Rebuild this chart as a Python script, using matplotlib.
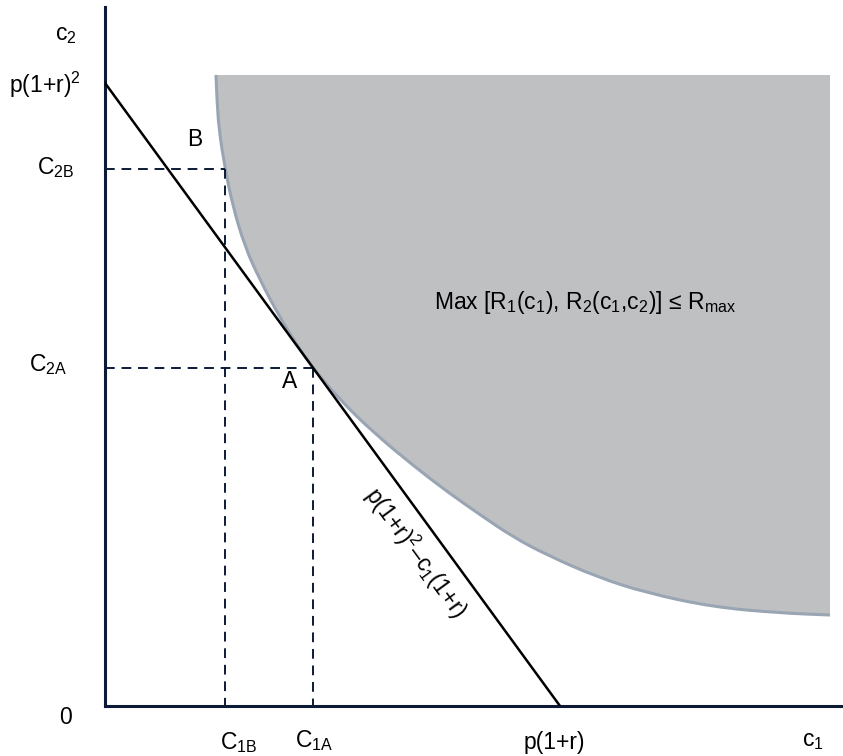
import matplotlib
matplotlib.use("Agg")
import matplotlib.pyplot as plt
from matplotlib.path import Path
from matplotlib.patches import PathPatch
import numpy as np

plt.rcParams['font.family'] = ['Liberation Sans', 'DejaVu Sans']
plt.rcParams['mathtext.fontset'] = 'custom'
plt.rcParams['mathtext.rm'] = 'Liberation Sans'
plt.rcParams['mathtext.it'] = 'Liberation Sans:italic'
plt.rcParams['mathtext.bf'] = 'Liberation Sans:bold'

# Boundary of the admissible region Max[R1, R2] <= Rmax (c1, c2)
c1_curve = [111, 112, 114, 120, 127.5, 140, 155, 174.6, 192, 208, 235, 269,
            310, 342, 374, 408, 442, 492, 542, 608, 675, 725]
c2_curve = [631, 606, 576, 538, 501, 459, 426, 389, 361, 338, 306, 273,
            239, 214.5, 192, 169, 151, 129, 113, 99, 93, 91]
region_top = 631
region_right = 725

# Budget line c2 = p(1+r)^2 - c1(1+r)
budget_c2_max = 623   # p(1+r)^2
budget_c1_max = 455   # p(1+r)

# Points on the boundary
point_A = (208, 338)
point_B = (120, 537)

axis_color = '#0d1a36'
fill_color = '#bfc0c2'
edge_color = '#9aa5b4'


def smooth_path(xs, ys):
    """Quadratic-Bezier path through the midpoints of the given points."""
    pts = np.column_stack([xs, ys]).astype(float)
    verts = [pts[0], (pts[0] + pts[1]) / 2]
    codes = [Path.MOVETO, Path.LINETO]
    for i in range(1, len(pts) - 1):
        verts += [pts[i], (pts[i] + pts[i + 1]) / 2]
        codes += [Path.CURVE3, Path.CURVE3]
    verts.append(pts[-1])
    codes.append(Path.LINETO)
    return verts, codes


fig = plt.figure(figsize=(8.43, 7.56), dpi=100)
ax = fig.add_axes([105 / 843, 50 / 756, 738 / 843, 699 / 756])
ax.set_xlim(0, 738)
ax.set_ylim(0, 699)

# shaded region
v, c = smooth_path(c1_curve, c2_curve)
fill_verts = v + [(region_right, region_top), (c1_curve[0], region_top), (0, 0)]
fill_codes = c + [Path.LINETO, Path.LINETO, Path.CLOSEPOLY]
ax.add_patch(PathPatch(Path(fill_verts, fill_codes), facecolor=fill_color,
                       edgecolor='none', zorder=1))
ax.add_patch(PathPatch(Path(v, c), facecolor='none', edgecolor=edge_color,
                       lw=2.2, zorder=2, capstyle='butt'))

# budget line
ax.plot([0, budget_c1_max], [budget_c2_max, 0], color='black', lw=1.8, zorder=4)

# dashed guides
dash = dict(color=axis_color, lw=1.4, dashes=(5, 3.5), zorder=3)
for (cx, cy) in (point_A, point_B):
    ax.plot([0, cx], [cy, cy], **dash)
    ax.plot([cx, cx], [cy, 0], **dash)

# axes styling
for s in ('top', 'right'):
    ax.spines[s].set_visible(False)
for s in ('left', 'bottom'):
    ax.spines[s].set_color(axis_color)
    ax.spines[s].set_linewidth(2.2)
ax.set_xticks([])
ax.set_yticks([])

fs = 16.5
txt = dict(fontsize=fs, ha='center', va='center', color='black')
ax.text(-39, 672, r'$\mathrm{c_2}$', **txt)
ax.text(-60, 621, r'$\mathrm{p(1{+}r)^2}$', **txt)
ax.text(-49, 538, r'$\mathrm{C_{2B}}$', **txt)
ax.text(-57, 341, r'$\mathrm{C_{2A}}$', **txt)
ax.text(-39, -11, '0', **txt)
ax.text(90, 566, 'B', **txt)
ax.text(185, 324, 'A', **txt)
ax.text(134, -37, r'$\mathrm{C_{1B}}$', **txt)
ax.text(209, -35, r'$\mathrm{C_{1A}}$', **txt)
ax.text(449, -37, 'p(1+r)', **txt)
ax.text(708, -34, r'$\mathrm{c_1}$', **txt)
ax.text(480, 404,
        r'$\mathrm{Max\ [R_1(c_1){,}\ R_2(c_1{,}c_2)]\ ≤\ R_{max}}$', **txt)

angle = -np.degrees(np.arctan(budget_c2_max / budget_c1_max))
ax.text(311, 153, r'$\mathrm{p(1{+}r)^2}$–$\mathrm{c_1(1{+}r)}$', fontsize=fs,
        ha='center', va='center', rotation=angle, rotation_mode='anchor')

fig.savefig('out.png', dpi=100)
